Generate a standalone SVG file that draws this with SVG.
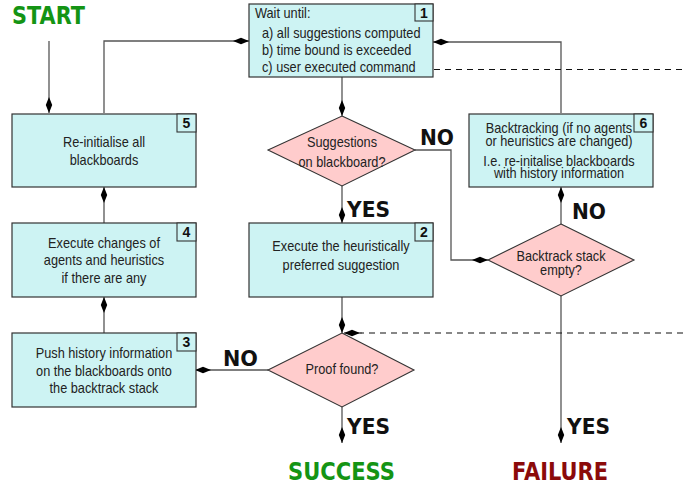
<svg xmlns="http://www.w3.org/2000/svg" width="683" height="489" viewBox="0 0 683 489">
<style>
.box{fill:#cdf3f3;stroke:#333;stroke-width:1.2}
.dia{fill:#ffcccc;stroke:#333;stroke-width:1.1}
.num{fill:#cdf3f3;stroke:#333;stroke-width:1.1}
.t{font-family:"Liberation Sans",Arial,sans-serif;font-size:14px;fill:#222}
.c{text-anchor:middle}
.n{font-family:"Liberation Sans",Arial,sans-serif;font-size:14px;font-weight:bold;fill:#111;text-anchor:middle}
.lab{font-family:"DejaVu Sans","Liberation Sans",sans-serif;font-weight:bold;font-size:22px;fill:#111}
.big{font-family:"DejaVu Sans","Liberation Sans",sans-serif;font-weight:bold;font-size:25px}
.ln{fill:none;stroke:#555;stroke-width:1.3}
.dash{fill:none;stroke:#111;stroke-width:1.2;stroke-dasharray:6 5}
</style>
<defs>
<marker id="ah" markerUnits="userSpaceOnUse" markerWidth="18" markerHeight="10" refX="16" refY="5" orient="auto">
<path d="M0,5 L8,1.8 L16,5 L8,8.2 Z" fill="#000"/>
</marker>
</defs>

<g id="connectors">
<path class="ln" d="M49,41 V113" marker-end="url(#ah)"/>
<path class="ln" d="M104,113 V41 H249" marker-end="url(#ah)"/>
<path class="ln" d="M561,113 V42 H433" marker-end="url(#ah)"/>
<path class="dash" d="M423,69.5 H683"/>
<path class="ln" d="M342,77 V116" marker-end="url(#ah)"/>
<path class="ln" d="M342,186 V223" marker-end="url(#ah)"/>
<path class="ln" d="M415,150 H451 V260 H488" marker-end="url(#ah)"/>
<path class="ln" d="M561,224 V187" marker-end="url(#ah)"/>
<path class="ln" d="M561,296 V443" marker-end="url(#ah)"/>
<path class="ln" d="M342,297 V333" marker-end="url(#ah)"/>
<path class="dash" d="M683,333 H360"/>
<path class="ln" d="M362,333 H344" marker-end="url(#ah)"/>
<path class="ln" d="M268,370 H195" marker-end="url(#ah)"/>
<path class="ln" d="M342,407 V443" marker-end="url(#ah)"/>
<path class="ln" d="M104,333 V297" marker-end="url(#ah)"/>
<path class="ln" d="M104,223 V187" marker-end="url(#ah)"/>
</g>

<g id="start"><text class="big" x="12" y="24" fill="#149414" textLength="73" lengthAdjust="spacingAndGlyphs">START</text></g>
<g id="success"><text class="big" x="288" y="480" fill="#149414" textLength="107" lengthAdjust="spacingAndGlyphs">SUCCESS</text></g>
<g id="failure"><text class="big" x="512" y="480" fill="#8b0a0a" textLength="96" lengthAdjust="spacingAndGlyphs">FAILURE</text></g>

<g id="node1">
<rect class="box" x="249" y="4" width="184" height="73"/>
<rect class="num" x="415" y="4" width="18" height="17"/>
<text class="n" x="424" y="18">1</text>
<text class="t" transform="matrix(0.91,0,0,1,255,18)">Wait until:</text>
<text class="t" transform="matrix(0.91,0,0,1,262,38)">a) all suggestions computed</text>
<text class="t" transform="matrix(0.91,0,0,1,262,55)">b) time bound is exceeded</text>
<text class="t" transform="matrix(0.91,0,0,1,262,72)">c) user executed command</text>
</g>

<g id="node5">
<rect class="box" x="12" y="114" width="184" height="73"/>
<rect class="num" x="177" y="114" width="19" height="18"/>
<text class="n" x="186.5" y="128">5</text>
<text class="t c" transform="matrix(0.91,0,0,1,104,147)">Re-initialise all</text>
<text class="t c" transform="matrix(0.91,0,0,1,104,165)">blackboards</text>
</g>

<g id="node4">
<rect class="box" x="12" y="223" width="184" height="74"/>
<rect class="num" x="177" y="223" width="19" height="18"/>
<text class="n" x="186.5" y="237">4</text>
<text class="t c" transform="matrix(0.91,0,0,1,104,248)">Execute changes of</text>
<text class="t c" transform="matrix(0.91,0,0,1,104,265)">agents and heuristics</text>
<text class="t c" transform="matrix(0.91,0,0,1,104,283)">if there are any</text>
</g>

<g id="node3">
<rect class="box" x="12" y="333" width="184" height="74"/>
<rect class="num" x="177" y="333" width="19" height="18"/>
<text class="n" x="186.5" y="347">3</text>
<text class="t c" transform="matrix(0.91,0,0,1,104,358)">Push history information</text>
<text class="t c" transform="matrix(0.91,0,0,1,104,376)">on the blackboards onto</text>
<text class="t c" transform="matrix(0.91,0,0,1,104,393)">the backtrack stack</text>
</g>

<g id="node2">
<rect class="box" x="249" y="223" width="184" height="74"/>
<rect class="num" x="415" y="223" width="18" height="18"/>
<text class="n" x="424" y="237">2</text>
<text class="t c" transform="matrix(0.91,0,0,1,341,251)">Execute the heuristically</text>
<text class="t c" transform="matrix(0.91,0,0,1,341,270)">preferred suggestion</text>
</g>

<g id="node6">
<rect class="box" x="469" y="114" width="184" height="73"/>
<rect class="num" x="634" y="114" width="19" height="18"/>
<text class="n" x="643.5" y="128">6</text>
<text class="t c" transform="matrix(0.91,0,0,1,559,133)">Backtracking (if no agents</text>
<text class="t c" transform="matrix(0.91,0,0,1,559,146)">or heuristics are changed)</text>
<text class="t c" transform="matrix(0.91,0,0,1,559,166)">I.e. re-initalise blackboards</text>
<text class="t c" transform="matrix(0.91,0,0,1,559,178)">with history information</text>
</g>

<g id="dec1">
<polygon class="dia" points="342,116 415,150 342,186 268,150"/>
<text class="t c" transform="matrix(0.91,0,0,1,342,147)">Suggestions</text>
<text class="t c" transform="matrix(0.91,0,0,1,342,167)">on blackboard?</text>
</g>

<g id="dec2">
<polygon class="dia" points="561,224 634,260 561,296 488,260"/>
<text class="t c" transform="matrix(0.91,0,0,1,561,261)">Backtrack stack</text>
<text class="t c" transform="matrix(0.91,0,0,1,561,275)">empty?</text>
</g>

<g id="dec3">
<polygon class="dia" points="342,333 414,370 342,407 268,370"/>
<text class="t c" transform="matrix(0.91,0,0,1,342,374)">Proof found?</text>
</g>

<g id="labels">
<text class="lab" x="420" y="145" textLength="34" lengthAdjust="spacingAndGlyphs">NO</text>
<text class="lab" x="347" y="217" textLength="43" lengthAdjust="spacingAndGlyphs">YES</text>
<text class="lab" x="572" y="219" textLength="34" lengthAdjust="spacingAndGlyphs">NO</text>
<text class="lab" x="223" y="366" textLength="35" lengthAdjust="spacingAndGlyphs">NO</text>
<text class="lab" x="347" y="434" textLength="43" lengthAdjust="spacingAndGlyphs">YES</text>
<text class="lab" x="567" y="434" textLength="43" lengthAdjust="spacingAndGlyphs">YES</text>
</g>
</svg>
